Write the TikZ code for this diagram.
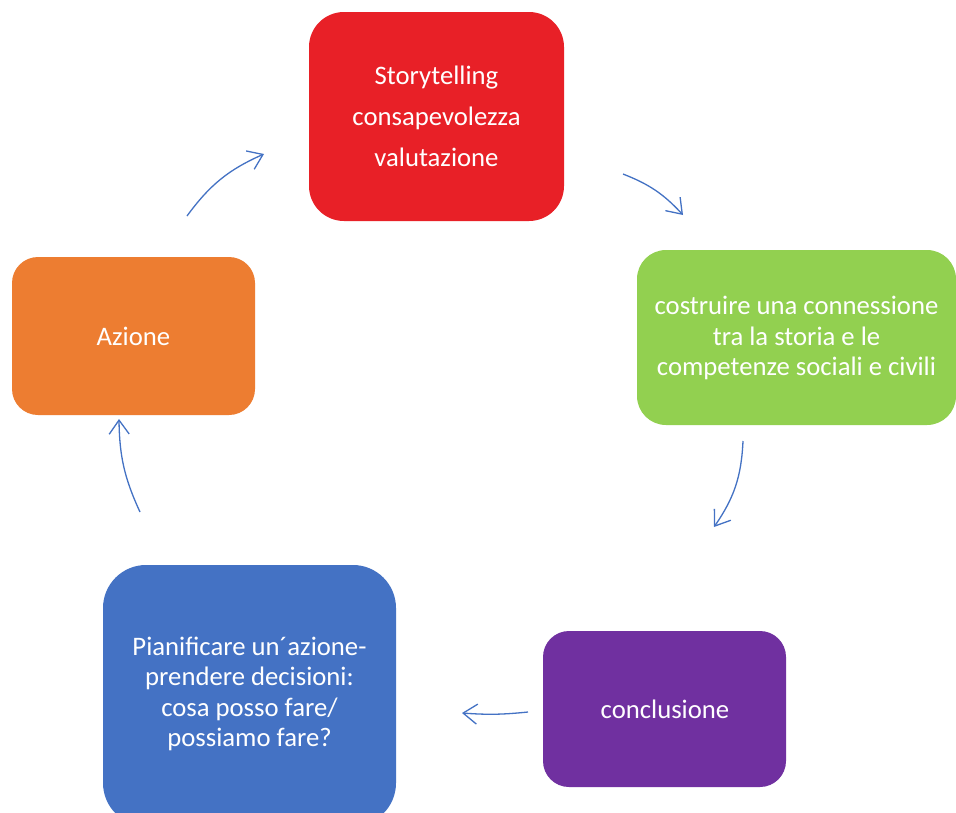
\documentclass[tikz,border=0pt]{standalone}
\usepackage{fontspec}
\setmainfont{Carlito}
\usetikzlibrary{arrows.meta}
\definecolor{cred}{RGB}{232,32,39}
\definecolor{cgreen}{RGB}{146,208,80}
\definecolor{corange}{RGB}{237,125,49}
\definecolor{cblue}{RGB}{68,114,196}
\definecolor{cpurple}{RGB}{112,48,160}
\definecolor{carrow}{RGB}{68,114,196}
\tikzset{
  box/.style={inner sep=0pt, align=center, text=white,
    font=\fontsize{26.7}{30.5}\selectfont},
  conn/.style={draw=carrow, line width=1.3pt,
    -{Straight Barb[length=14pt,width=20pt,line width=1.3pt]}}
}
\begin{document}
\begin{tikzpicture}[x=1pt,y=-1pt]
\useasboundingbox (0,0) rectangle (956,812);
\clip (0,0) rectangle (956,812);
\fill[white] (0,0) rectangle (956,812);
% boxes
\fill[cred, rounded corners=35pt] (309,12) rectangle (564,221);
\fill[cgreen, rounded corners=29pt] (637,250) rectangle (956,425);
\fill[corange, rounded corners=26pt] (12,257) rectangle (255,415);
\fill[cblue, rounded corners=43pt] (103,565) rectangle (396,826);
\fill[cpurple, rounded corners=26pt] (543,631) rectangle (786,787);
% texts
\node[box, font=\fontsize{26.7}{41}\selectfont] (story) at (436.5,116) {Storytelling\\consapevolezza\\valutazione};
\node[box] (conn) at (796.5,338) {costruire una connessione\\tra la storia e le\\competenze sociali e civili};
\node[box] (concl) at (665,709) {conclusione};
\node[box] (plan) at (249.5,694) {Pianificare un´azione-\\prendere decisioni:\\cosa posso fare/\\possiamo fare?};
\node[box] (azione) at (133.5,336) {Azione};
% arrow endpoints
\coordinate (a1s) at (187,216);
\coordinate (a1e) at (264,154);
\coordinate (a2s) at (623,174);
\coordinate (a2e) at (683,215);
\coordinate (a3s) at (743,441);
\coordinate (a3e) at (714,527);
\coordinate (a4s) at (528,712);
\coordinate (a4e) at (462,713);
\coordinate (a5s) at (140,512);
\coordinate (a5e) at (119,419);
\draw[conn] (a1s) to[bend left=15] (a1e);
\draw[conn] (a2s) to[bend left=13] (a2e);
\draw[conn] (a3s) to[bend left=16] (a3e);
\draw[conn] (a4s) to[bend left=5] (a4e);
\draw[conn] (a5s) to[bend left=12] (a5e);
\end{tikzpicture}
\end{document}
